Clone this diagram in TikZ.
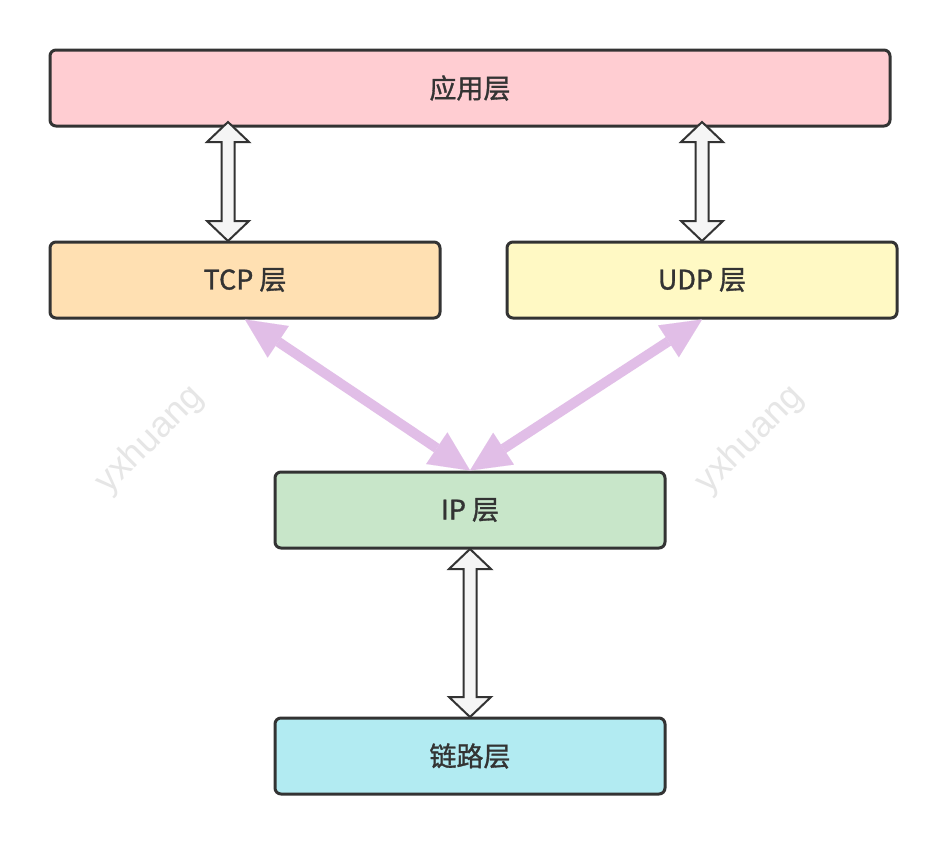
\documentclass[tikz,border=0pt]{standalone}
\usepackage{fontspec}
\setmainfont{Noto Sans CJK SC}
\newfontfamily\lblfont{Noto Sans CJK SC}[FakeBold=1.2]
\newfontfamily\wmfont{Liberation Sans}
\usetikzlibrary{arrows.meta,calc}
\definecolor{cpink}{HTML}{FFCDD2}
\definecolor{cpeach}{HTML}{FFE0B2}
\definecolor{cyellow}{HTML}{FFF9C4}
\definecolor{cgreen}{HTML}{C8E6C9}
\definecolor{ccyan}{HTML}{B2EBF2}
\definecolor{cpurple}{HTML}{E1BEE7}
\definecolor{cdark}{HTML}{333333}
\definecolor{carrow}{HTML}{F5F5F5}
\definecolor{cwm}{HTML}{E6E6E6}
\newcommand\blockarr[2]{%
  \draw[blockarrow] let \p1=(#1), \p2=(#2) in
    (\x1,\y1) -- (\x1+21pt,\y1-20pt) -- (\x1+6.5pt,\y1-20pt) -- (\x2+6.5pt,\y2+20pt)
    -- (\x2+21pt,\y2+20pt) -- (\x2,\y2) -- (\x2-21pt,\y2+20pt) -- (\x2-6.5pt,\y2+20pt)
    -- (\x1-6.5pt,\y1-20pt) -- (\x1-21pt,\y1-20pt) -- cycle;}
\begin{document}
\begin{tikzpicture}[x=1pt,y=-1pt,
  layer/.style={draw=cdark,line width=3pt,rounded corners=6pt,minimum height=76pt,
    text=cdark,font=\lblfont\fontsize{27}{32}\selectfont,inner sep=0pt},
  blockarrow/.style={draw=cdark,fill=carrow,line width=2pt,line join=miter},
  purp/.style={draw=cpurple,line width=10pt,
    {Triangle[length=40pt,width=38pt,line width=0.01pt]}-{Triangle[length=40pt,width=38pt,line width=0.01pt]}},
  wm/.style={text=cwm,rotate=45,font=\wmfont\fontsize{36}{40}\selectfont}]
\useasboundingbox[fill=white] (0,0) rectangle (947,844);
\node[wm] (wm1) at (150,440) {yxhuang};
\node[wm] (wm2) at (750,440) {yxhuang};
\node[layer,fill=cpink,minimum width=840pt] (app) at (470,88) {应用层};
\node[layer,fill=cpeach,minimum width=390pt] (tcp) at (245,280) {TCP 层};
\node[layer,fill=cyellow,minimum width=390pt] (udp) at (702,280) {UDP 层};
\node[layer,fill=cgreen,minimum width=390pt] (ip) at (470,510) {IP 层};
\node[layer,fill=ccyan,minimum width=390pt] (link) at (470,756) {链路层};
\coordinate (a1t) at (228,122);
\coordinate (a1b) at (228,241);
\coordinate (a2t) at (702,122);
\coordinate (a2b) at (702,241);
\coordinate (a3t) at (470,549);
\coordinate (a3b) at (470,717);
\blockarr{a1t}{a1b}
\blockarr{a2t}{a2b}
\blockarr{a3t}{a3b}
\draw[purp] (tcp.south) -- (ip.north);
\draw[purp] (udp.south) -- (ip.north);
\end{tikzpicture}
\end{document}
